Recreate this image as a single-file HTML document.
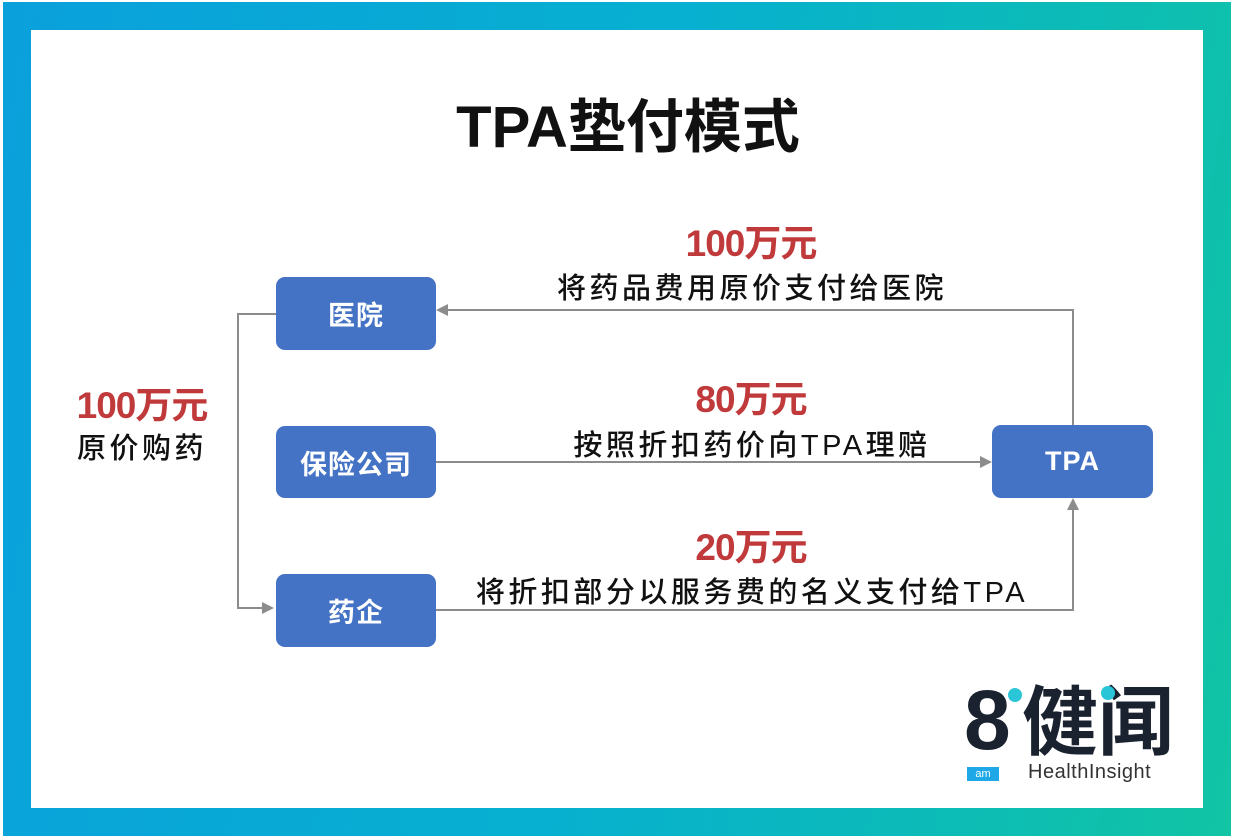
<!DOCTYPE html>
<html><head><meta charset="utf-8"><style>
body{margin:0;width:1234px;height:840px;overflow:hidden;background:#fff;font-family:"Liberation Sans","Noto Sans CJK SC",sans-serif;}
.frame{position:absolute;left:3px;top:2px;width:1228px;height:834px;background:linear-gradient(100deg,#0aa0dc 0%,#07b0d0 50%,#10c4a4 100%);}
.inner{position:absolute;left:31px;top:30px;width:1172px;height:778px;background:#fff;}
.t{position:absolute;white-space:nowrap;transform:translateX(-50%);}
.box{position:absolute;background:#4472c4;border-radius:9px;color:#fff;font-size:27px;font-weight:bold;display:flex;align-items:center;justify-content:center;letter-spacing:1px;}
.red{color:#c0393b;font-size:37px;font-weight:bold;letter-spacing:-1px;}
.blk{color:#111;font-size:29px;letter-spacing:3.5px;font-weight:500;}
</style></head><body>
<div class="frame"></div><div class="inner"></div>
<div class="t" style="left:628px;top:80px;font-size:58px;font-weight:bold;color:#111">TPA垫付模式</div>
<svg style="position:absolute;left:0;top:0" width="1234" height="840">
<defs><marker id="a" markerWidth="12" markerHeight="12" refX="10" refY="6" orient="auto" markerUnits="userSpaceOnUse"><path d="M0,0 L12,6 L0,12z" fill="#8c8c8c"/></marker></defs>
<g stroke="#8c8c8c" stroke-width="2" fill="none">
<polyline points="276,314 238,314 238,608 272,608" marker-end="url(#a)"/>
<polyline points="1073,425 1073,310 438,310" marker-end="url(#a)"/>
<line x1="436" y1="462" x2="990" y2="462" marker-end="url(#a)"/>
<polyline points="436,610 1073,610 1073,500" marker-end="url(#a)"/>
</g></svg>
<div class="box" style="left:276px;top:277px;width:160px;height:73px">医院</div>
<div class="box" style="left:276px;top:426px;width:160px;height:72px">保险公司</div>
<div class="box" style="left:276px;top:574px;width:160px;height:73px">药企</div>
<div class="box" style="left:992px;top:425px;width:161px;height:73px">TPA</div>
<div class="t red" style="left:751px;top:213px">100万元</div>
<div class="t blk" style="left:752px;top:265px">将药品费用原价支付给医院</div>
<div class="t red" style="left:751px;top:369px">80万元</div>
<div class="t blk" style="left:752px;top:422px">按照折扣药价向TPA理赔</div>
<div class="t red" style="left:751px;top:517px">20万元</div>
<div class="t blk" style="left:752px;top:569px">将折扣部分以服务费的名义支付给TPA</div>
<div class="t red" style="left:142px;top:375px">100万元</div>
<div class="t blk" style="left:142px;top:425px">原价购药</div>
<div style="position:absolute;left:964px;top:678px;font-size:84px;font-weight:bold;color:#1a2230;line-height:84px">8</div>
<div style="position:absolute;left:1008px;top:688px;width:14px;height:14px;border-radius:50%;background:#2bc5d8"></div>
<div style="position:absolute;left:1022px;top:680px;font-size:76px;font-weight:bold;color:#1a2230;line-height:88px">健闻</div>
<div style="position:absolute;left:1101px;top:686px;width:14px;height:14px;border-radius:50%;background:#2bc5d8"></div>
<div style="position:absolute;left:967px;top:767px;width:32px;height:14px;background:#1fa8e8;color:#fff;font-size:11px;text-align:center;line-height:14px">am</div>
<div style="position:absolute;left:1028px;top:761px;font-size:20px;color:#333;letter-spacing:0.5px">HealthInsight</div>
</body></html>
